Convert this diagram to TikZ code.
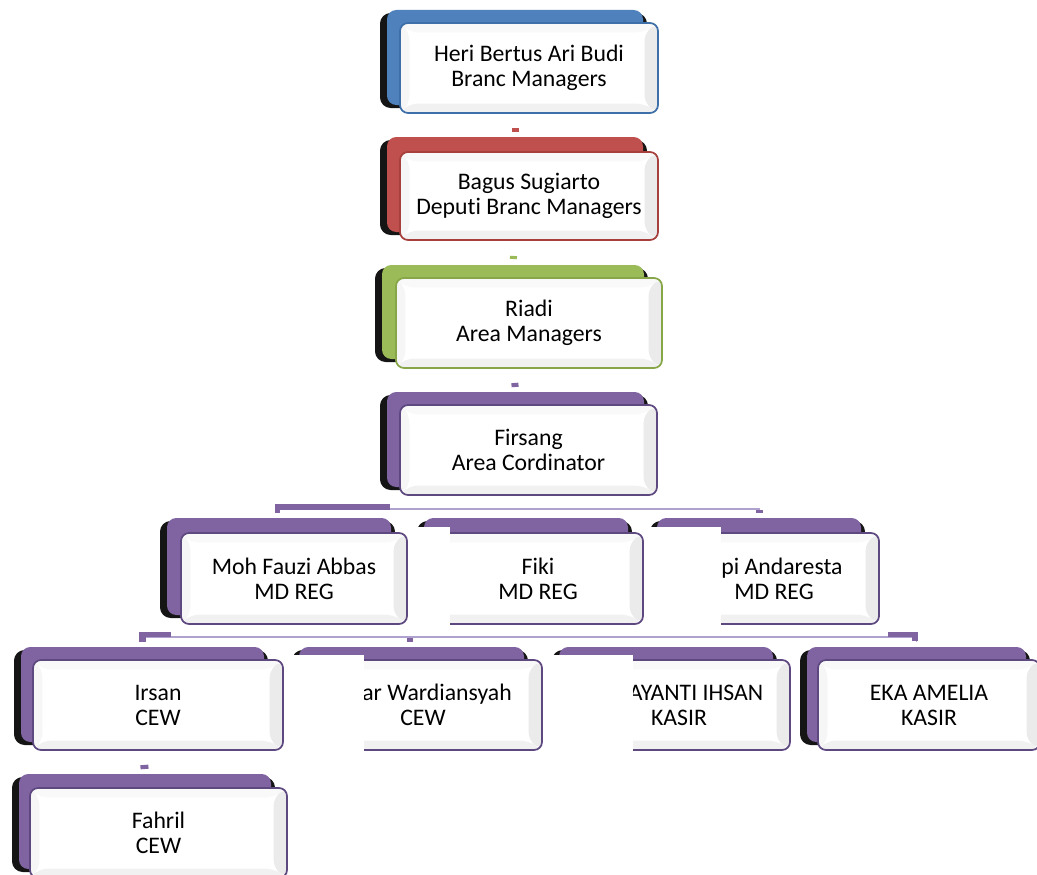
\documentclass[tikz,border=0pt]{standalone}
\usepackage{fontspec}
\setmainfont{Carlito}[Ligatures=NoCommon]
\definecolor{cblue}{HTML}{4F81BD}
\definecolor{cblueD}{HTML}{3F6FA8}
\definecolor{cred}{HTML}{C0504D}
\definecolor{credD}{HTML}{A5403D}
\definecolor{cgreen}{HTML}{9BBB59}
\definecolor{cgreenD}{HTML}{86A648}
\definecolor{cpurple}{HTML}{8064A2}
\definecolor{cpurpleD}{HTML}{5E4880}
\definecolor{cbus}{HTML}{B0A2CE}
\definecolor{cshadow}{HTML}{151515}
\newcommand\boxfont{\fontsize{17.8pt}{18.75pt}\selectfont}
% back box: black 3D side + coloured face
\newcommand\orgback[6]{%
  \node[backshadow, minimum width={(#4-#2)*0.75pt}, minimum height={(#5-#3-3)*0.75pt}]
    (#1s) at ({(#2+#4)/2},{(#3+#5+3)/2}) {};
  \node[backbox=#6, minimum width={(#4-#2-11)*0.75pt}, minimum height={(#5-#3-3)*0.75pt}]
    (#1) at ({(#2+#4+3)/2},{(#3+#5-3)/2}) {};}
% front box with bevel
\newcommand\orgfront[7]{%
  \node[frontbox=#6, minimum width={(#4-#2)*0.75pt}, minimum height={(#5-#3)*0.75pt}]
    (#1) at ({(#2+#4)/2},{(#3+#5)/2}) {#7};}
\begin{document}
\begin{tikzpicture}[x=0.75pt,y=-0.75pt,
  backshadow/.style={rectangle, rounded corners=8pt, fill=cshadow, inner sep=0pt, outer sep=0pt},
  backbox/.style={rectangle, rounded corners=7pt, fill=#1, inner sep=0pt, outer sep=0pt},
  frontbox/.style={rectangle, rounded corners=6pt, fill=white, draw=#1, line width=1.3pt,
    inner sep=0pt, outer sep=0pt, align=center, font=\boxfont, text=black,
    path picture={
      \fill[gray!5] (path picture bounding box.north west) -- (path picture bounding box.north east)
        -- ([shift={(-10pt,-7pt)}]path picture bounding box.north east)
        -- ([shift={(7pt,-7pt)}]path picture bounding box.north west) -- cycle;
      \fill[gray!7] (path picture bounding box.north west) -- (path picture bounding box.south west)
        -- ([shift={(7pt,7pt)}]path picture bounding box.south west)
        -- ([shift={(7pt,-7pt)}]path picture bounding box.north west) -- cycle;
      \fill[gray!16] (path picture bounding box.north east) -- (path picture bounding box.south east)
        -- ([shift={(-10pt,7pt)}]path picture bounding box.south east)
        -- ([shift={(-10pt,-7pt)}]path picture bounding box.north east) -- cycle;
      \fill[gray!11] (path picture bounding box.south west) -- (path picture bounding box.south east)
        -- ([shift={(-10pt,7pt)}]path picture bounding box.south east)
        -- ([shift={(7pt,7pt)}]path picture bounding box.south west) -- cycle;
    }},
  chainlink/.style={draw=#1, line width=5.25pt},
  busline/.style={draw=cbus, line width=1.1pt},
  busthick/.style={fill=cpurple},
  cover/.style={fill=white},
]
\useasboundingbox (0,0) rectangle (1037,874);

% ---------- back boxes ----------
\orgback{b1}{380}{10}{647}{108}{cblue}
\orgback{b2}{380}{137}{647}{235}{cred}
\orgback{b3}{375}{265}{648}{362}{cgreen}
\orgback{b4}{380}{392}{648}{490}{cpurple}
\orgback{b5}{160}{518}{395}{618}{cpurple}
\orgback{b6}{417}{518}{632}{618}{cpurple}
\orgback{b7}{650}{518}{865}{618}{cpurple}
\orgback{b8}{14}{647}{268}{745}{cpurple}
\orgback{b9}{292}{647}{528}{745}{cpurple}
\orgback{b10}{552}{647}{777}{745}{cpurple}
\orgback{b11}{800}{647}{1030}{745}{cpurple}
\orgback{b12}{12}{774}{275}{872}{cpurple}

% ---------- connectors ----------
\draw[chainlink=cred, shorten <=17.25pt, shorten >=3.75pt] (b1.south) -- (b2.north);
\draw[chainlink=cgreen, shorten <=18pt, shorten >=4.5pt] (b2.south) -- (b3.north);
\draw[chainlink=cpurple, shorten <=18pt, shorten >=3.75pt] (b3.south) -- (b4.north);
\draw[chainlink=cpurple, line width=6pt, shorten <=17.25pt, shorten >=3.75pt] (b8.south) -- (b12.north);

\coordinate (busA) at (514,509);
\draw[busline, shorten >=3.75pt] (busA) -| (b5.north);
\draw[busline, shorten >=6.75pt] (busA) -| (b6.north);
\draw[busline, shorten >=3.75pt] (busA) -| (b7.north);
\fill[busthick] (275,504) rectangle (390,510);
\fill[busthick] (275,504) rectangle (280,513);
\fill[busthick] (756,509.5) rectangle (763,513);

\coordinate (busB) at (279,637);
\draw[busline, shorten >=3.75pt] (busB) -| (b8.north);
\draw[busline, shorten >=3.75pt] (busB) -| (b9.north);
\draw[busline, shorten >=7.5pt] (busB) -| (b10.north);
\draw[busline, shorten >=3.75pt] (busB) -| (b11.north);
\fill[busthick] (139,632) rectangle (171,637);
\fill[busthick] (139,632) rectangle (146,642);
\fill[busthick] (888,632) rectangle (918,637);
\fill[busthick] (912,632) rectangle (918,641);
\fill[busthick] (407,638) rectangle (413,642);

% ---------- front boxes ----------
\orgfront{f1}{400}{23}{658}{113}{cblueD}{Heri Bertus Ari Budi\\Branc Managers}
\orgfront{f2}{400}{152}{658}{240}{credD}{Bagus Sugiarto\\Deputi Branc Managers}
\orgfront{f3}{396}{278}{662}{368}{cgreenD}{Riadi\\Area Managers}
\orgfront{f4}{400}{405}{657}{495}{cpurpleD}{Firsang\\Area Cordinator}

\orgfront{f5}{181}{533}{407}{624}{cpurpleD}{Moh Fauzi Abbas\\MD REG}
\orgfront{f6}{433}{533}{643}{624}{cpurpleD}{Fiki\\MD REG}
\fill[cover] (409,527) rectangle (450,627);
\orgfront{f7}{669}{533}{879}{624}{cpurpleD}{\hspace*{12pt}pi Andaresta\\MD REG}
\fill[cover] (645,527) rectangle (721,627);

\orgfront{f8}{33}{660}{283}{750}{cpurpleD}{Irsan\\CEW}
\orgfront{f9}{304}{660}{542}{750}{cpurpleD}{\hspace*{21pt}ar Wardiansyah\\CEW}
\fill[cover] (285,655) rectangle (364,753);
\orgfront{f10}{568}{660}{790}{750}{cpurpleD}{\hspace*{25.5pt}AYANTI IHSAN\\KASIR}
\fill[cover] (545,655) rectangle (633,753);
\orgfront{f11}{818}{660}{1040}{750}{cpurpleD}{EKA AMELIA\\KASIR}
\orgfront{f12}{30}{788}{287}{878}{cpurpleD}{Fahril\\CEW}
\end{tikzpicture}
\end{document}
